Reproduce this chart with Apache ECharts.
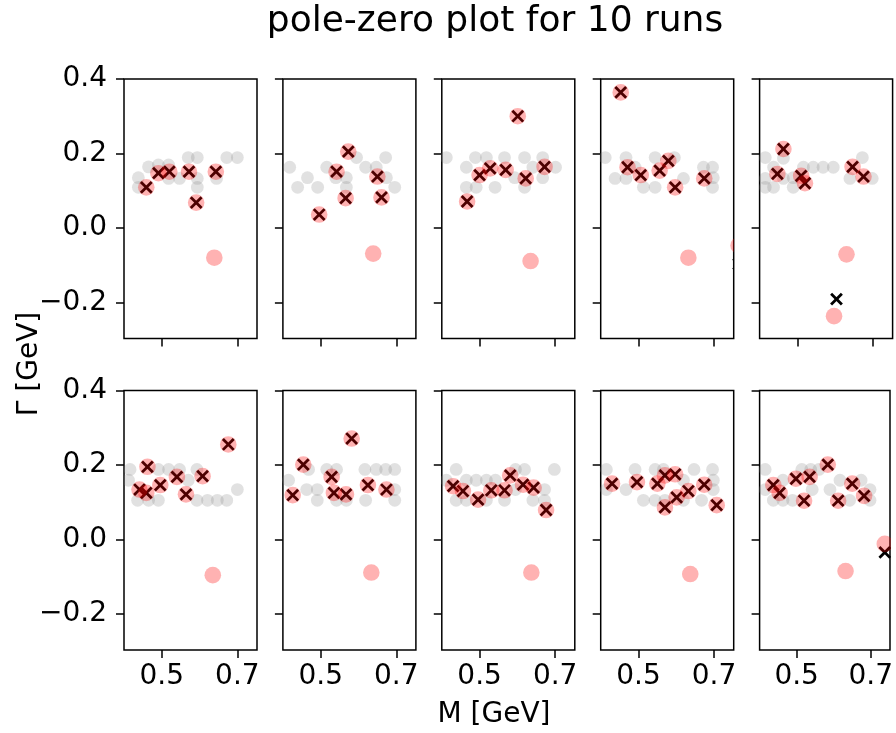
<!DOCTYPE html>
<html>
<head>
<meta charset="utf-8">
<script src="https://cdn.jsdelivr.net/npm/echarts@6/dist/echarts.min.js"></script>
<style>html,body{margin:0;padding:0;background:#fff}#c{width:896px;height:733px}</style>
</head>
<body>
<div id="c"></div>
<script>
// ---- tick labels ----
const xTicks = [0.5, 0.7];
const yTicks = [-0.2, 0.0, 0.2, 0.4];
const titleText = 'pole-zero plot for 10 runs';
const xLabel = 'M [GeV]';
const yLabel = 'Γ [GeV]';

// ---- run 1 ----
const run1Gray = [[0.438,0.135],[0.438,0.109],[0.465,0.164],[0.491,0.169],[0.518,0.169],[0.518,0.133],[0.547,0.133],[0.570,0.189],[0.594,0.189],[0.594,0.133],[0.594,0.109],[0.645,0.133],[0.672,0.189],[0.700,0.189]];
const run1Poles = [[0.459,0.109],[0.491,0.147],[0.520,0.151],[0.572,0.151],[0.591,0.068],[0.643,0.151]];
const run1Red = [[0.639,-0.080]];
const run1Cross = [];
// ---- run 2 ----
const run2Gray = [[0.418,0.163],[0.439,0.109],[0.465,0.135],[0.492,0.109],[0.516,0.163],[0.540,0.135],[0.568,0.135],[0.568,0.109],[0.595,0.189],[0.619,0.163],[0.647,0.163],[0.672,0.189],[0.674,0.135],[0.696,0.109]];
const run2Poles = [[0.496,0.036],[0.542,0.151],[0.573,0.205],[0.566,0.080],[0.650,0.138],[0.661,0.082]];
const run2Red = [[0.639,-0.069]];
const run2Cross = [];
// ---- run 3 ----
const run3Gray = [[0.412,0.189],[0.465,0.163],[0.489,0.189],[0.465,0.109],[0.491,0.109],[0.518,0.189],[0.541,0.109],[0.566,0.189],[0.593,0.135],[0.619,0.189],[0.619,0.109],[0.641,0.163],[0.667,0.189],[0.667,0.135],[0.701,0.163]];
const run3Poles = [[0.467,0.071],[0.500,0.142],[0.528,0.160],[0.569,0.156],[0.622,0.133],[0.672,0.164],[0.601,0.300]];
const run3Red = [[0.635,-0.089]];
const run3Cross = [];
// ---- run 4 ----
const run4Gray = [[0.412,0.189],[0.438,0.133],[0.467,0.189],[0.467,0.133],[0.491,0.163],[0.513,0.109],[0.544,0.109],[0.544,0.189],[0.595,0.189],[0.619,0.133],[0.672,0.163],[0.696,0.163],[0.696,0.109],[0.698,0.135]];
const run4Poles = [[0.453,0.364],[0.471,0.163],[0.506,0.142],[0.556,0.154],[0.579,0.180],[0.597,0.109],[0.674,0.133]];
const run4Red = [[0.632,-0.080],[0.765,-0.047]];
const run4Cross = [[0.765,-0.097]];
// ---- run 5 ----
const run5Gray = [[0.415,0.189],[0.415,0.133],[0.415,0.109],[0.437,0.163],[0.437,0.109],[0.463,0.187],[0.463,0.133],[0.489,0.109],[0.489,0.135],[0.516,0.163],[0.542,0.163],[0.568,0.163],[0.595,0.163],[0.639,0.133],[0.672,0.189],[0.698,0.133]];
const run5Poles = [[0.463,0.212],[0.447,0.145],[0.510,0.140],[0.520,0.120],[0.646,0.164],[0.675,0.138]];
const run5Red = [[0.630,-0.071],[0.597,-0.237]];
const run5Cross = [[0.6035,-0.191]];
// ---- run 6 ----
const run6Gray = [[0.416,0.188],[0.412,0.159],[0.436,0.105],[0.465,0.105],[0.491,0.105],[0.491,0.188],[0.518,0.188],[0.547,0.188],[0.570,0.159],[0.593,0.188],[0.593,0.105],[0.621,0.105],[0.647,0.105],[0.672,0.105],[0.700,0.134]];
const run6Poles = [[0.462,0.195],[0.496,0.146],[0.540,0.168],[0.564,0.121],[0.608,0.170],[0.676,0.255],[0.441,0.134],[0.459,0.125]];
const run6Red = [[0.635,-0.096]];
const run6Cross = [];
// ---- run 7 ----
const run7Gray = [[0.415,0.159],[0.463,0.134],[0.491,0.134],[0.491,0.105],[0.516,0.188],[0.542,0.188],[0.542,0.105],[0.568,0.105],[0.617,0.188],[0.619,0.105],[0.647,0.188],[0.672,0.188],[0.696,0.188],[0.696,0.134],[0.696,0.105],[0.468,0.188]];
const run7Poles = [[0.426,0.119],[0.454,0.201],[0.529,0.168],[0.535,0.125],[0.567,0.121],[0.582,0.271],[0.625,0.146],[0.674,0.134]];
const run7Red = [[0.634,-0.089]];
const run7Cross = [];
// ---- run 8 ----
const run8Gray = [[0.412,0.159],[0.438,0.188],[0.438,0.105],[0.465,0.159],[0.465,0.105],[0.491,0.159],[0.518,0.159],[0.518,0.105],[0.542,0.159],[0.566,0.105],[0.595,0.188],[0.619,0.188],[0.595,0.134],[0.641,0.105],[0.672,0.134],[0.672,0.105],[0.698,0.188]];
const run8Poles = [[0.430,0.143],[0.456,0.130],[0.496,0.107],[0.531,0.132],[0.566,0.132],[0.581,0.172],[0.615,0.147],[0.643,0.139],[0.676,0.079]];
const run8Red = [[0.637,-0.089]];
const run8Cross = [];
// ---- run 9 ----
const run9Gray = [[0.415,0.188],[0.415,0.134],[0.467,0.134],[0.491,0.188],[0.513,0.105],[0.544,0.188],[0.566,0.188],[0.544,0.105],[0.570,0.105],[0.619,0.159],[0.619,0.105],[0.647,0.188],[0.667,0.105],[0.696,0.188],[0.698,0.159],[0.698,0.134]];
const run9Poles = [[0.430,0.150],[0.496,0.154],[0.550,0.150],[0.570,0.172],[0.597,0.175],[0.570,0.086],[0.601,0.113],[0.632,0.130],[0.674,0.147],[0.707,0.092]];
const run9Red = [[0.637,-0.093]];
const run9Cross = [];
// ---- run 10 ----
const run10Gray = [[0.415,0.188],[0.415,0.134],[0.437,0.105],[0.463,0.159],[0.463,0.105],[0.489,0.105],[0.514,0.188],[0.538,0.188],[0.560,0.188],[0.542,0.134],[0.590,0.134],[0.617,0.159],[0.643,0.105],[0.674,0.159],[0.698,0.134],[0.698,0.105]];
const run10Poles = [[0.437,0.146],[0.454,0.125],[0.498,0.163],[0.535,0.168],[0.520,0.104],[0.584,0.201],[0.612,0.104],[0.650,0.150],[0.682,0.117]];
const run10Red = [[0.632,-0.085],[0.738,-0.012]];
const run10Cross = [[0.738,-0.035]];

const runsGray = [run1Gray,run2Gray,run3Gray,run4Gray,run5Gray,run6Gray,run7Gray,run8Gray,run9Gray,run10Gray];
const runsPoles = [run1Poles,run2Poles,run3Poles,run4Poles,run5Poles,run6Poles,run7Poles,run8Poles,run9Poles,run10Poles];
const runsRed = [run1Red,run2Red,run3Red,run4Red,run5Red,run6Red,run7Red,run8Red,run9Red,run10Red];
const runsCross = [run1Cross,run2Cross,run3Cross,run4Cross,run5Cross,run6Cross,run7Cross,run8Cross,run9Cross,run10Cross];

const FONT = 'DejaVu Sans';
const chart = echarts.init(document.getElementById('c'), null, {renderer: 'canvas'});

function grayItem(params, api) {
  const p = api.coord([api.value(0), api.value(1)]);
  return {type: 'circle', shape: {cx: p[0], cy: p[1], r: 6.4}, style: {fill: 'rgba(128,128,128,0.24)'}};
}
function redItem(params, api) {
  const p = api.coord([api.value(0), api.value(1)]);
  return {type: 'circle', shape: {cx: p[0], cy: p[1], r: 8.3}, style: {fill: 'rgba(255,0,0,0.3)'}};
}
function crossItem(params, api) {
  const p = api.coord([api.value(0), api.value(1)]);
  const s = 5.4;
  const st = {stroke: '#000', lineWidth: 2.8};
  return {type: 'group', children: [
    {type: 'line', shape: {x1: p[0]-s, y1: p[1]-s, x2: p[0]+s, y2: p[1]+s}, style: st},
    {type: 'line', shape: {x1: p[0]-s, y1: p[1]+s, x2: p[0]+s, y2: p[1]-s}, style: st}
  ]};
}
function fmtY(v) {
  const s = Math.abs(v).toFixed(1);
  return v < -1e-9 ? '\u2212' + s : s;
}

const grids = [], xAxes = [], yAxes = [], series = [];
for (let i = 0; i < 10; i++) {
  const col = i % 5, row = Math.floor(i / 5);
  grids.push({
    left: 124 + 158.9 * col, width: 133,
    top: row === 0 ? 79 : 390.5, height: 259.5,
    show: true, borderColor: '#000', borderWidth: 1.5, containLabel: false
  });
  xAxes.push({
    type: 'value', gridIndex: i, min: 0.4, max: 0.752, position: 'bottom',
    axisLine: {show: false, onZero: false}, splitLine: {show: false},
    axisTick: {show: true, customValues: xTicks, length: 8, lineStyle: {color: '#000', width: 1.5}},
    axisLabel: {show: row === 1, customValues: xTicks, formatter: v => v.toFixed(1),
      fontSize: 28, fontFamily: FONT, color: '#000', margin: 13}
  });
  yAxes.push({
    type: 'value', gridIndex: i, min: -0.297, max: 0.4, position: 'left',
    axisLine: {show: false, onZero: false}, splitLine: {show: false},
    axisTick: {show: true, customValues: yTicks, length: 8, lineStyle: {color: '#000', width: 1.5}},
    axisLabel: {show: col === 0, customValues: yTicks, formatter: fmtY,
      fontSize: 28, fontFamily: FONT, color: '#000', margin: 17}
  });
  series.push({type: 'custom', xAxisIndex: i, yAxisIndex: i, data: runsGray[i], renderItem: grayItem, clip: true, z: 2, silent: true});
  series.push({type: 'custom', xAxisIndex: i, yAxisIndex: i, data: runsPoles[i].concat(runsCross[i]), renderItem: crossItem, clip: true, z: 3, silent: true});
  series.push({type: 'custom', xAxisIndex: i, yAxisIndex: i, data: runsPoles[i].concat(runsRed[i]), renderItem: redItem, clip: true, z: 4, silent: true});
}

chart.setOption({
  animation: false,
  backgroundColor: '#fff',
  grid: grids, xAxis: xAxes, yAxis: yAxes, series: series,
  graphic: [
    {type: 'text', x: 495, y: 4, style: {text: titleText, font: '36px "DejaVu Sans"', fill: '#000', textAlign: 'center', textVerticalAlign: 'top'}},
    {type: 'text', x: 494, y: 715, style: {text: xLabel, font: '28px "DejaVu Sans"', fill: '#000', textAlign: 'center', textVerticalAlign: 'middle'}},
    {type: 'text', x: 30, y: 364, rotation: Math.PI / 2, style: {text: yLabel, font: '28px "DejaVu Sans"', fill: '#000', textAlign: 'center', textVerticalAlign: 'middle'}}
  ]
});
</script>
</body>
</html>
